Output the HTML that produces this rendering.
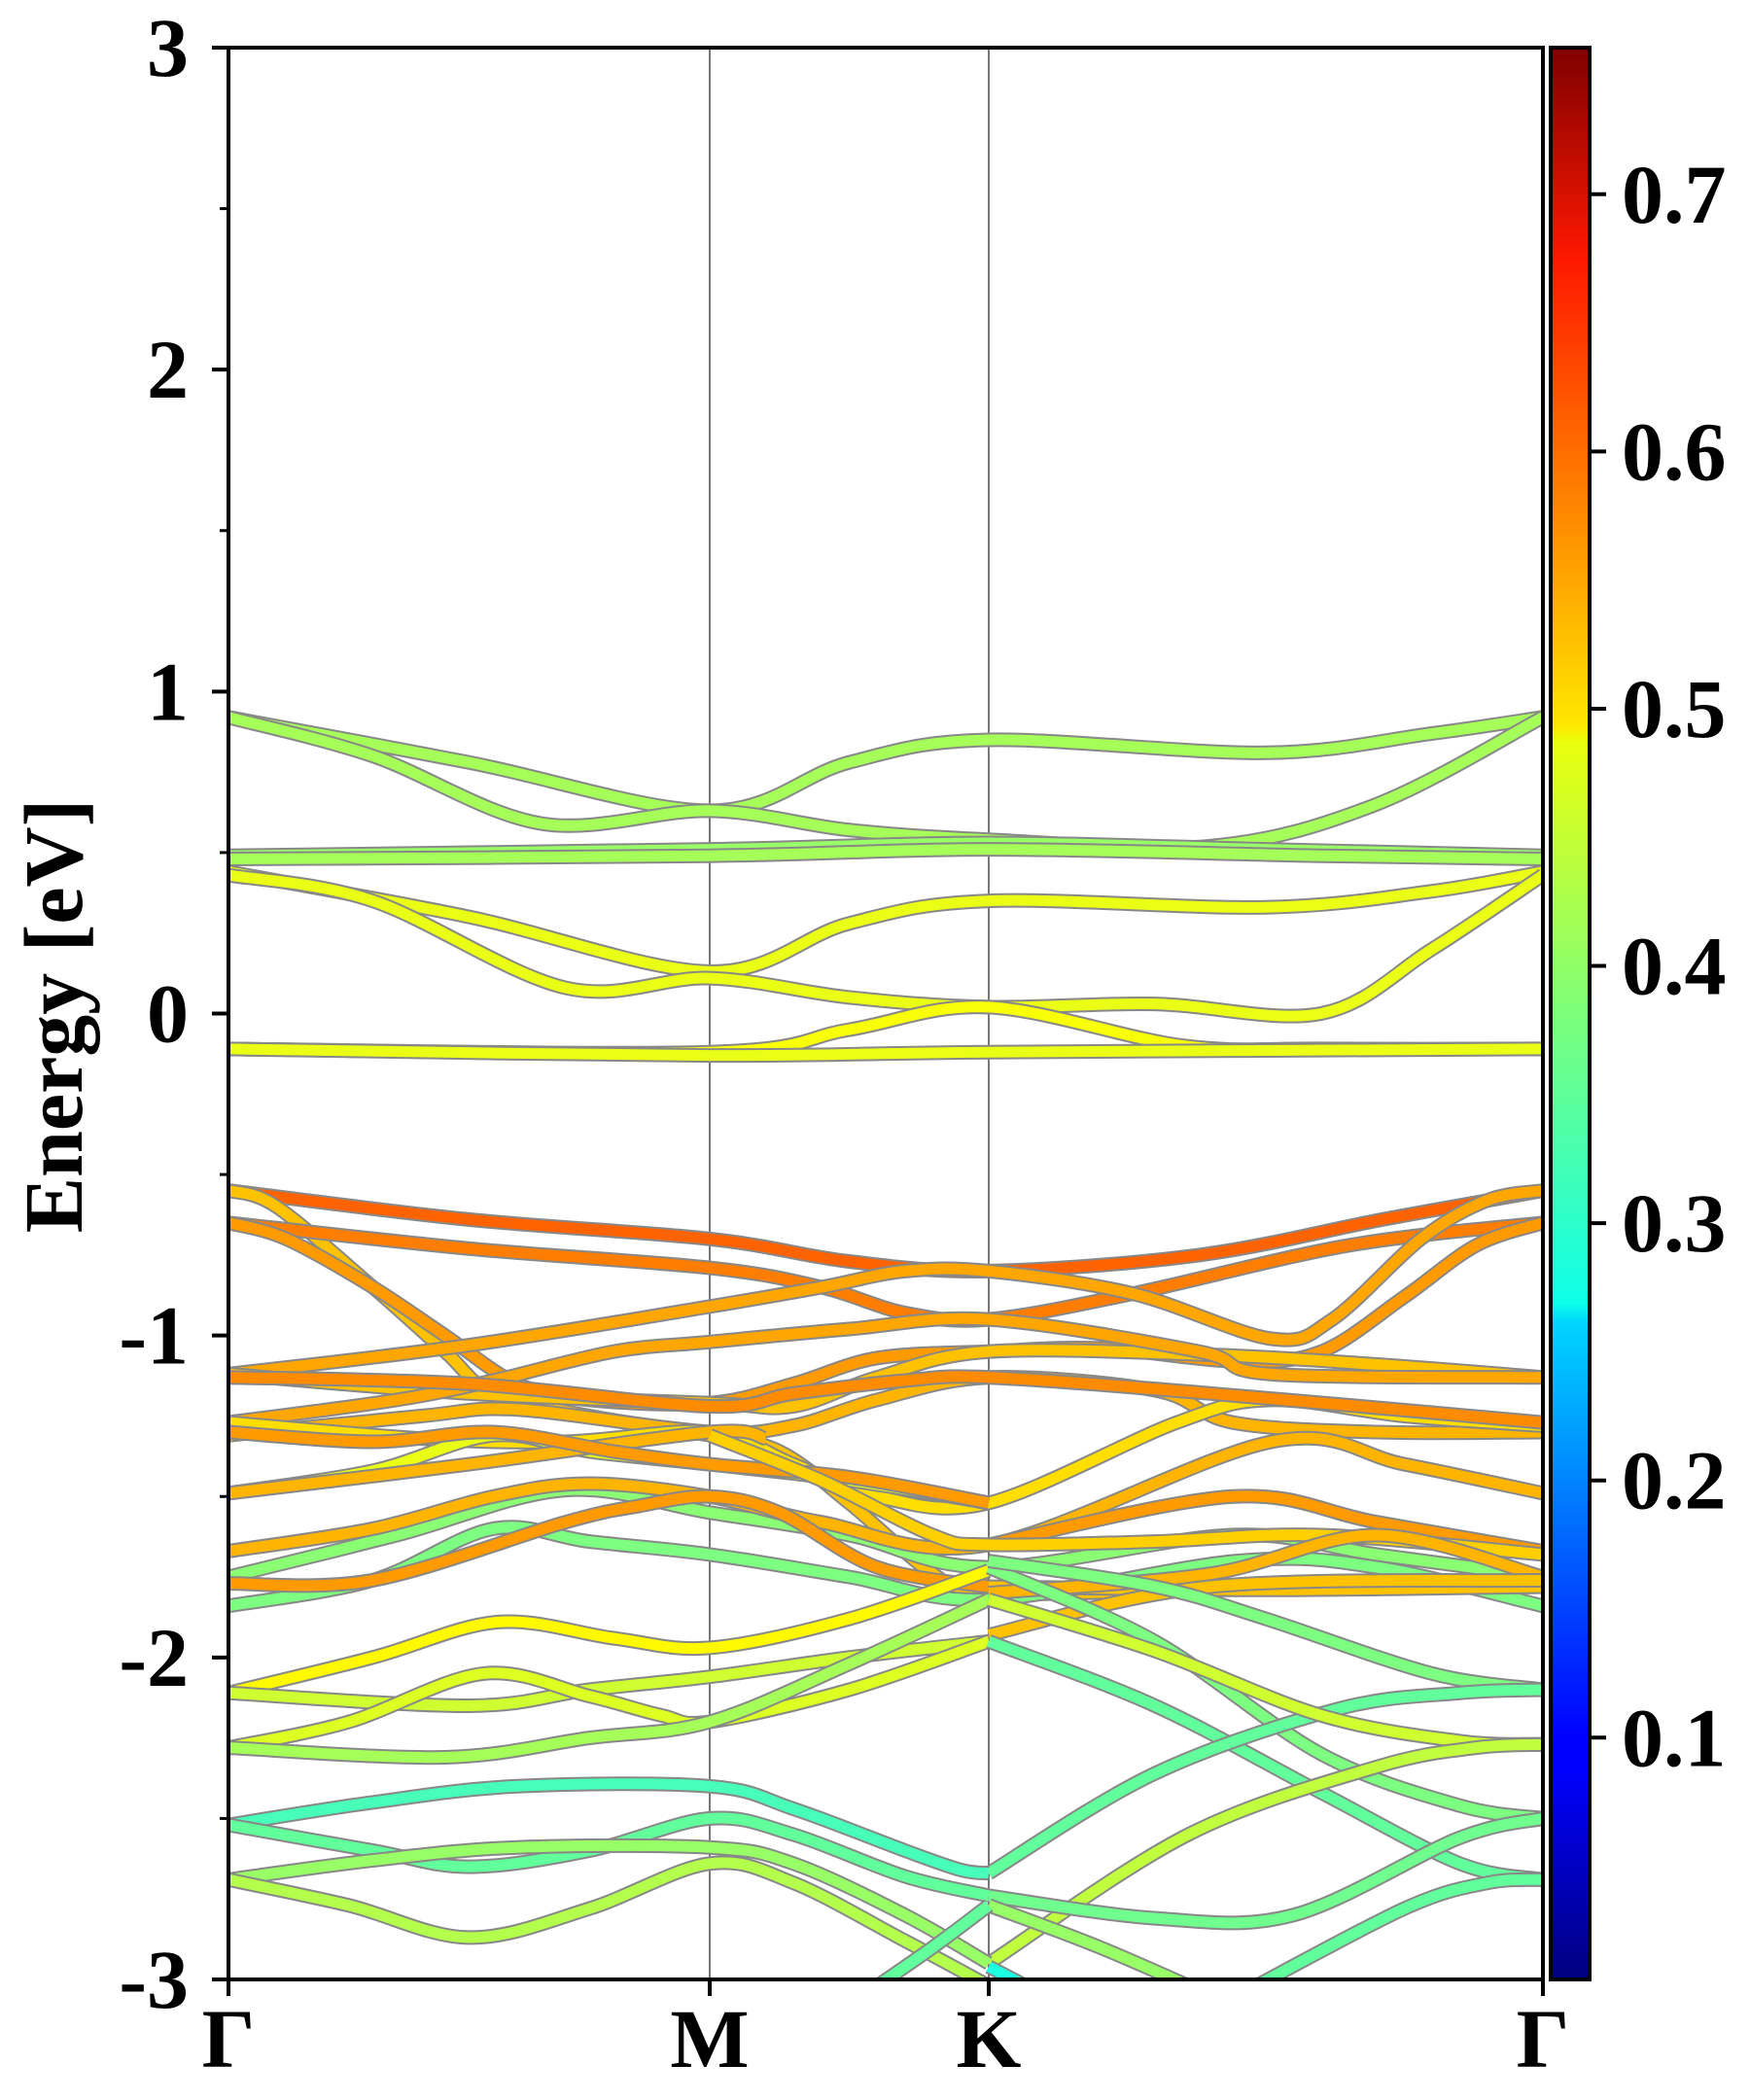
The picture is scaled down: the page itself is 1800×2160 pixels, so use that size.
<!DOCTYPE html>
<html><head><meta charset="utf-8">
<style>
html,body{margin:0;padding:0;background:#fff;}
svg{display:block;}
text{font-family:"Liberation Serif","Times New Roman",serif;font-weight:bold;fill:#000;}
</style></head>
<body>
<svg id="chart" width="1800" height="2160" viewBox="0 0 1800 2160" xmlns="http://www.w3.org/2000/svg">
<defs>
<linearGradient id="jet" x1="0" y1="1" x2="0" y2="0">
<stop offset="0" stop-color="#00007f"/><stop offset="0.11" stop-color="#0000ff"/><stop offset="0.125" stop-color="#0000ff"/>
<stop offset="0.34" stop-color="#00d5ff"/><stop offset="0.35" stop-color="#0dffea"/><stop offset="0.5" stop-color="#7dff7a"/>
<stop offset="0.64" stop-color="#eaff0d"/><stop offset="0.65" stop-color="#ffe600"/><stop offset="0.89" stop-color="#ff1800"/>
<stop offset="1" stop-color="#7f0000"/>
</linearGradient>
<clipPath id="plotclip"><rect x="235" y="49" width="1352" height="1987"/></clipPath>
</defs>
<g id="bands" clip-path="url(#plotclip)"></g>
<g id="axes"></g>
</svg>
<script>
// ---- data ----
const kLabels = ["Γ","M","K","Γ"];
const yTicks = [3,2,1,0,-1,-2,-3];
const yTickLabels = ["3","2","1","0","-1","-2","-3"];
const cbTicks = [0.1,0.2,0.3,0.4,0.5,0.6,0.7];
const cbTickLabels = ["0.1","0.2","0.3","0.4","0.5","0.6","0.7"];
const bandValues = [0.41,0.41,0.40,0.41,0.46,0.46,0.47,0.46,
 0.59,0.52,0.57,0.55,0.54,0.52,0.54,0.53,0.50,0.46,0.39,0.53,0.38,
 0.55,0.55,0.56,0.53,0.55,0.52,0.51,0.53,0.48,0.44,0.45,0.52,0.41,
 0.38,0.36,0.38,0.36,0.44,0.43,0.37,0.36,0.40,0.34,0.36,0.40,0.42,0.36,0.31,0.40,0.37,0.38,0.33,0.35,0.30];
const bandEnergies = [
 [[0,.92],[0.5,.78],[1,.63],[1.5,.78],[2,.85],[2.5,.81],[2.8,.87],[3,.92]],
 [[0,.92],[0.3,.80],[0.65,.59],[1,.63],[1.5,.57],[2,.54],[2.4,.52],[2.7,.65],[3,.92]],
 [[0,.49],[1,.51],[2,.53],[2.5,.51],[3,.49]],
 [[0,.48],[1,.49],[2,.51],[2.6,.49],[3,.48]],
 [[0,.44],[0.5,.30],[1,.13],[1.5,.28],[2,.35],[2.5,.33],[2.8,.38],[3,.44]],
 [[0,.43],[0.3,.35],[0.7,.08],[1,.11],[1.5,.05],[2,.02],[2.3,.03],[2.6,.0],[2.8,.2],[3,.43]],
 [[0,-.11],[1,-.12],[1.5,-.05],[2,.02],[2.35,-.10],[2.6,-.11],[3,-.11]],
 [[0,-.11],[1,-.13],[2,-.12],[3,-.11]],
 [[0,-.55],[0.5,-.64],[1,-.70],[1.5,-.77],[2,-.80],[2.38,-.75],[2.71,-.64],[3,-.55]],
 [[0,-.55],[0.1,-.60],[0.3,-.85],[0.45,-1.05],[0.55,-1.18],[0.75,-1.25],[1,-1.31],[1.25,-1.36],[1.5,-1.52],[1.8,-1.74],[2,-1.80],[2.4,-1.79],[3,-1.78]],
 [[0,-.65],[0.5,-.73],[1,-.79],[1.4,-.85],[1.7,-.93],[2,-.95],[2.26,-.87],[2.65,-.72],[3,-.65]],
 [[0,-.65],[0.12,-.70],[0.3,-.85],[0.45,-1.0],[0.6,-1.15],[0.75,-1.20],[1,-1.21],[1.3,-1.15],[1.6,-1.07],[2,-1.05],[2.2,-1.04],[2.45,-1.08],[2.6,-1.05],[2.75,-.88],[2.88,-.72],[3,-.65]],
 [[0,-1.12],[0.5,-1.03],[1,-.91],[1.4,-.85],[1.7,-.80],[2,-.80],[2.26,-.87],[2.51,-1.01],[2.62,-.95],[2.78,-.70],[2.9,-.58],[3,-.55]],
 [[0,-1.12],[0.5,-1.18],[1,-1.21],[1.3,-1.22],[1.6,-1.13],[2,-1.05],[2.4,-1.06],[2.7,-1.09],[3,-1.13]],
 [[0,-1.27],[0.35,-1.20],[0.55,-1.14],[0.8,-1.05],[1,-1.02],[1.5,-.98],[2,-.95],[2.38,-1.05],[2.51,-1.12],[3,-1.13]],
 [[0,-1.31],[0.4,-1.25],[0.6,-1.23],[1,-1.30],[1.3,-1.28],[1.6,-1.2],[2,-1.13],[2.3,-1.17],[2.44,-1.27],[2.7,-1.30],[3,-1.30]],
 [[0,-1.27],[0.4,-1.32],[0.7,-1.33],[1,-1.30],[1.3,-1.40],[1.6,-1.50],[2,-1.52],[2.34,-1.27],[2.51,-1.20],[2.75,-1.25],[3,-1.28]],
 [[0,-1.49],[0.3,-1.42],[0.55,-1.31],[0.75,-1.36],[1,-1.40],[1.5,-1.45],[2,-1.52]],
 [[0,-1.75],[0.35,-1.62],[0.7,-1.48],[1,-1.55],[1.5,-1.62],[2,-1.72],[2.44,-1.62],[2.7,-1.68],[3,-1.75]],
 [[0,-1.67],[0.3,-1.60],[0.55,-1.50],[0.75,-1.46],[1,-1.50],[1.4,-1.58],[2,-1.65],[2.51,-1.33],[2.75,-1.40],[3,-1.49]],
 [[0,-1.84],[0.3,-1.76],[0.55,-1.60],[0.75,-1.64],[1,-1.68],[1.5,-1.75],[2,-1.82],[2.45,-1.70],[2.7,-1.72],[3,-1.84]],
 [[0,-1.77],[0.3,-1.76],[0.7,-1.58],[0.85,-1.53],[1,-1.50],[1.25,-1.55],[1.6,-1.72],[2,-1.78]],
 [[2,-1.65],[2.44,-1.50],[2.7,-1.58],[3,-1.67]],
 [[0,-1.13],[0.5,-1.15],[1,-1.22],[1.3,-1.18],[1.7,-1.14],[2,-1.13],[2.4,-1.18],[3,-1.27]],
 [[0,-1.49],[0.5,-1.40],[1,-1.30],[1.2,-1.32]],
 [[0,-1.30],[0.3,-1.33],[0.55,-1.30],[0.8,-1.36],[1,-1.40],[1.5,-1.44],[2,-1.52]],
 [[2,-1.78],[2.5,-1.79],[3,-1.78]],
 [[1,-1.31],[1.4,-1.45],[1.8,-1.62],[2,-1.65],[2.3,-1.64],[2.6,-1.62],[3,-1.68]],
 [[2,-1.80],[2.4,-1.74],[2.7,-1.62],[3,-1.75]],
 [[0,-2.11],[0.3,-2.0],[0.56,-1.89],[0.8,-1.94],[1,-1.97],[1.5,-1.88],[2,-1.73]],
 [[0,-2.11],[0.5,-2.15],[0.75,-2.10],[1,-2.06],[1.5,-2.0],[2,-1.95]],
 [[0,-2.28],[0.25,-2.20],[0.53,-2.05],[0.75,-2.12],[0.9,-2.18],[1,-2.20],[1.5,-2.1],[2,-1.95]],
 [[2,-1.93],[2.4,-1.78],[3,-1.76]],
 [[0,-2.28],[0.45,-2.31],[0.75,-2.25],[1,-2.20],[1.5,-2.02],[2,-1.82]],
 [[2,-1.72],[2.3,-1.95],[2.6,-2.30],[2.85,-2.46],[3,-2.50]],
 [[2,-1.95],[2.3,-2.15],[2.6,-2.42],[2.85,-2.64],[3,-2.69]],
 [[2,-1.70],[2.3,-1.78],[2.5,-1.88],[2.8,-2.05],[3,-2.10]],
 [[2,-2.67],[2.3,-2.36],[2.63,-2.16],[2.85,-2.11],[3,-2.10]],
 [[2,-1.82],[2.3,-1.98],[2.6,-2.18],[2.85,-2.26],[3,-2.27]],
 [[2,-2.95],[2.36,-2.55],[2.7,-2.34],[2.88,-2.28],[3,-2.27]],
 [[2,-2.74],[2.3,-2.81],[2.55,-2.80],[2.85,-2.56],[3,-2.50]],
 [[2.45,-3.05],[2.75,-2.78],[2.9,-2.70],[3,-2.69]],
 [[2,-2.77],[2.2,-2.9],[2.4,-3.05]],
 [[0,-2.52],[0.3,-2.45],[0.6,-2.40],[1,-2.40],[1.3,-2.47],[1.7,-2.60],[1.9,-2.66],[2,-2.67]],
 [[0,-2.52],[0.3,-2.60],[0.5,-2.65],[0.75,-2.60],[1,-2.50],[1.3,-2.55],[1.7,-2.68],[2,-2.74]],
 [[0,-2.69],[0.3,-2.63],[0.6,-2.59],[1,-2.59],[1.3,-2.64],[1.7,-2.80],[2,-2.95]],
 [[0,-2.69],[0.25,-2.77],[0.5,-2.87],[0.75,-2.78],[1,-2.64],[1.3,-2.70],[1.7,-2.88],[2,-3.02]],
 [[1.55,-3.05],[1.8,-2.90],[2,-2.77]],
 [[2,-2.96],[2.1,-3.05]]
];
// ---- axes ----
const PL=235, PR=1587, PT=49, PB=2036, YMIN=-3, YMAX=3;
const kPix = [235, 730, 1017, 1587];
function xScale(k){const i=Math.min(2,Math.floor(k));const f=k-i;return kPix[i]+(kPix[i+1]-kPix[i])*f;}
function yScale(e){return PT+(YMAX-e)/(YMAX-YMIN)*(PB-PT);}
const CB_MIN=0.006, CB_MAX=0.757, CBT=49, CBB=2036;
function cbScale(v){return CBB-(v-CB_MIN)/(CB_MAX-CB_MIN)*(CBB-CBT);}
function jet(v){
  const t=Math.max(0,Math.min(1,(v-CB_MIN)/(CB_MAX-CB_MIN)));
  const r=Math.max(0,Math.min(1,Math.min(4*t-1.5,-4*t+4.5)));
  const g=Math.max(0,Math.min(1,Math.min(4*t-0.5,-4*t+3.5)));
  const b=Math.max(0,Math.min(1,Math.min(4*t+0.5,-4*t+2.5)));
  return `rgb(${Math.round(r*255)},${Math.round(g*255)},${Math.round(b*255)})`;
}
function pathFor(pts){
  const P=pts.map(p=>[xScale(p[0]),yScale(p[1])]);
  let d=`M${P[0][0].toFixed(1)},${P[0][1].toFixed(1)}`;
  for(let i=0;i<P.length-1;i++){
    const p0=P[Math.max(0,i-1)],p1=P[i],p2=P[i+1],p3=P[Math.min(P.length-1,i+2)];
    const c1=[p1[0]+(p2[0]-p0[0])/6,p1[1]+(p2[1]-p0[1])/6];
    const c2=[p2[0]-(p3[0]-p1[0])/6,p2[1]-(p3[1]-p1[1])/6];
    d+=`C${c1[0].toFixed(1)},${c1[1].toFixed(1)} ${c2[0].toFixed(1)},${c2[1].toFixed(1)} ${p2[0].toFixed(1)},${p2[1].toFixed(1)}`;
  }
  return d;
}
const NS="http://www.w3.org/2000/svg";
const FONT='"Liberation Serif", "Times New Roman", serif';
function mk(tag,attrs,parent){const e=document.createElementNS(NS,tag);for(const k in attrs)e.setAttribute(k,attrs[k]);parent.appendChild(e);return e;}
const bandsG=document.getElementById('bands');
const axesG=document.getElementById('axes');
[1,2].forEach(k=>{
  const l=mk('line',{x1:xScale(k),x2:xScale(k),y1:PT,y2:PB,stroke:'#777','stroke-width':2},bandsG);
  
  
});
bandEnergies.forEach((b,i)=>{
  const d=pathFor(b);
  const o=mk('path',{d:d,fill:'none',stroke:'#888','stroke-width':15,'stroke-linecap':'butt'},bandsG);
  
  
  const p=mk('path',{d:d,fill:'none',stroke:jet(bandValues[i]),'stroke-width':11,'stroke-linecap':'butt'},bandsG);
  
  
});
const fr=mk('rect',{x:PL,y:PT,width:PR-PL,height:PB-PT,fill:'none',stroke:'#000','stroke-width':4},axesG);


yTicks.forEach((v,i)=>{
  const y=yScale(v);
  const t=mk('line',{x1:PL-17,x2:PL,y1:y,y2:y,stroke:'#000','stroke-width':4},axesG);
  
  
  const tx=mk('text',{x:194,y:y+29,'text-anchor':'end','font-size':86,'font-family':FONT,'font-weight':'bold'},axesG);
  tx.textContent=yTickLabels[i];
  
  
  if(v>YMIN){
    const m=mk('line',{x1:PL-9,x2:PL,y1:yScale(v-0.5),y2:yScale(v-0.5),stroke:'#000','stroke-width':3},axesG);
    
    
  }
});
kLabels.forEach((lab,i)=>{
  const x=xScale(i);
  const t=mk('line',{x1:x,x2:x,y1:PB,y2:PB+17,stroke:'#000','stroke-width':4},axesG);
  
  
  const tx=mk('text',{x:x,y:2126,'text-anchor':'middle','font-size':86,'font-family':FONT,'font-weight':'bold'},axesG);
  tx.textContent=lab;
  
  
});
const yl=mk('text',{x:0,y:0,'text-anchor':'middle','font-size':86,'font-family':FONT,'font-weight':'bold',transform:'translate(84,1045) rotate(-90)'},axesG);
yl.textContent='Energy [eV]';


const cb=mk('rect',{x:1595,y:CBT,width:40,height:CBB-CBT,fill:'url(#jet)',stroke:'#000','stroke-width':4},axesG);


cbTicks.forEach((v,i)=>{
  const y=cbScale(v);
  const t=mk('line',{x1:1635,x2:1652,y1:y,y2:y,stroke:'#000','stroke-width':4},axesG);
  
  
  const tx=mk('text',{x:1668,y:y+29,'font-size':86,'font-family':FONT,'font-weight':'bold'},axesG);
  tx.textContent=cbTickLabels[i];
  
  
});
</script>
</body></html>
